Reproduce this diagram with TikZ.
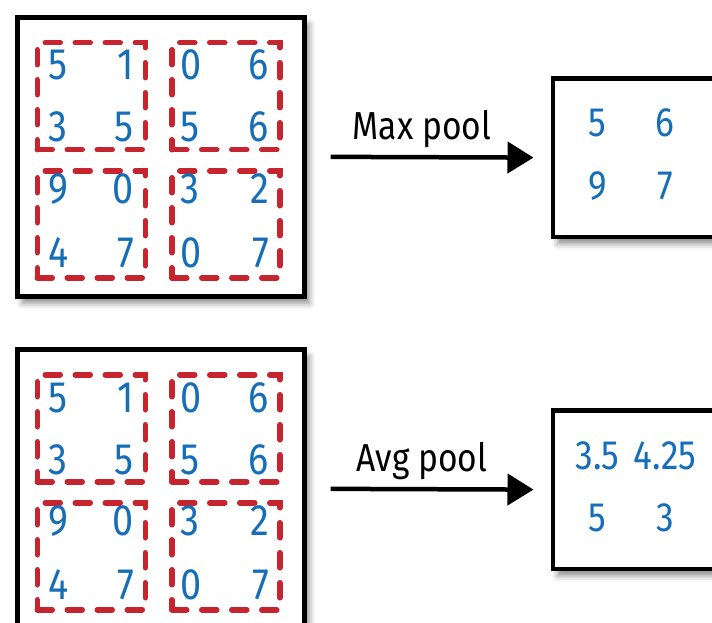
\documentclass[tikz,border=0pt]{standalone}
\usepackage{fontspec}
\setmainfont{Fira Sans}[FakeStretch=0.86]
\usetikzlibrary{arrows.meta,shadows.blur}
\definecolor{numblue}{RGB}{22,110,184}
\definecolor{poolred}{RGB}{198,36,46}
\begin{document}
\begin{tikzpicture}[x=1pt,y=-1pt,
  frame/.style={draw=black, line width=4.7pt, fill=white, inner sep=0pt,
    blur shadow={shadow xshift=5pt, shadow yshift=-7pt,
      shadow blur radius=6pt, shadow opacity=45}},
  window/.style={draw=poolred, line width=5.5pt, dash pattern=on 15pt off 15pt,
    line cap=round, inner sep=0pt, minimum width=108pt, minimum height=107pt,
    anchor=north west},
  num/.style={text=numblue, inner sep=0pt, font=\fontsize{44}{44}\selectfont},
  outnum/.style={text=numblue, inner sep=0pt, anchor=base,
    font=\fontsize{41}{41}\selectfont},
  flow/.style={line width=4.5pt, -{Triangle[length=26pt,width=31pt]}},
  flowlabel/.style={inner sep=0pt, anchor=base, font=\fontsize{39}{39}\selectfont},
]
\useasboundingbox (0,0) rectangle (712,623);
\clip (0,0) rectangle (712,623);

% one 4x4 input with its four 2x2 pooling windows
\newcommand{\poolinput}{%
  \node[frame, minimum width=287pt, minimum height=279pt, anchor=north west]
    (in) at (15,15) {};
  \node[window] (w1) at (34.5,40) {};
  \node[window] (w2) at (169,40) {};
  \node[window] (w3) at (34.5,168) {};
  \node[window] (w4) at (169,168) {};
  \node[num, anchor=base west] (c11) at (48,80)  {5};
  \node[num, anchor=base east] (c12) at (134,80) {1};
  \node[num, anchor=base west] (c13) at (180,80) {0};
  \node[num, anchor=base east] (c14) at (269,80) {6};
  \node[num, anchor=base west] (c21) at (48,142)  {3};
  \node[num, anchor=base east] (c22) at (134,142) {5};
  \node[num, anchor=base west] (c23) at (180,142) {5};
  \node[num, anchor=base east] (c24) at (269,142) {6};
  \node[num, anchor=base west] (c31) at (48,203)  {9};
  \node[num, anchor=base east] (c32) at (134,203) {0};
  \node[num, anchor=base west] (c33) at (180,203) {3};
  \node[num, anchor=base east] (c34) at (269,203) {2};
  \node[num, anchor=base west] (c41) at (48,267)  {4};
  \node[num, anchor=base east] (c42) at (134,267) {7};
  \node[num, anchor=base west] (c43) at (180,267) {0};
  \node[num, anchor=base east] (c44) at (269,267) {7};
}

% max pooling
\begin{scope}[name prefix=max-]
  \poolinput
  \node[frame, minimum width=200pt, minimum height=158.5pt, anchor=north west]
    (out) at (550.5,76) {};
  \node[outnum] (o11) at (597.5,137) {5};
  \node[outnum] (o12) at (665,137) {6};
  \node[outnum] (o21) at (597.5,199) {9};
  \node[outnum] (o22) at (665,199) {7};
  \draw[flow] ([xshift=24pt]in.east) -- ([xshift=-17pt]out.west)
    node[flowlabel, pos=0.45, yshift=18pt] (lab) {Max pool};
\end{scope}

% average pooling
\begin{scope}[name prefix=avg-, yshift=-332pt]
  \poolinput
  \node[frame, minimum width=200pt, minimum height=158.5pt, anchor=north west]
    (out) at (550.5,76) {};
  \node[outnum] (o11) at (597.5,137) {3.5};
  \node[outnum] (o12) at (665,137) {4.25};
  \node[outnum] (o21) at (597.5,199) {5};
  \node[outnum] (o22) at (665,199) {3};
  \draw[flow] ([xshift=24pt]in.east) -- ([xshift=-17pt]out.west)
    node[flowlabel, pos=0.45, yshift=18pt] (lab) {Avg pool};
\end{scope}
\end{tikzpicture}
\end{document}
